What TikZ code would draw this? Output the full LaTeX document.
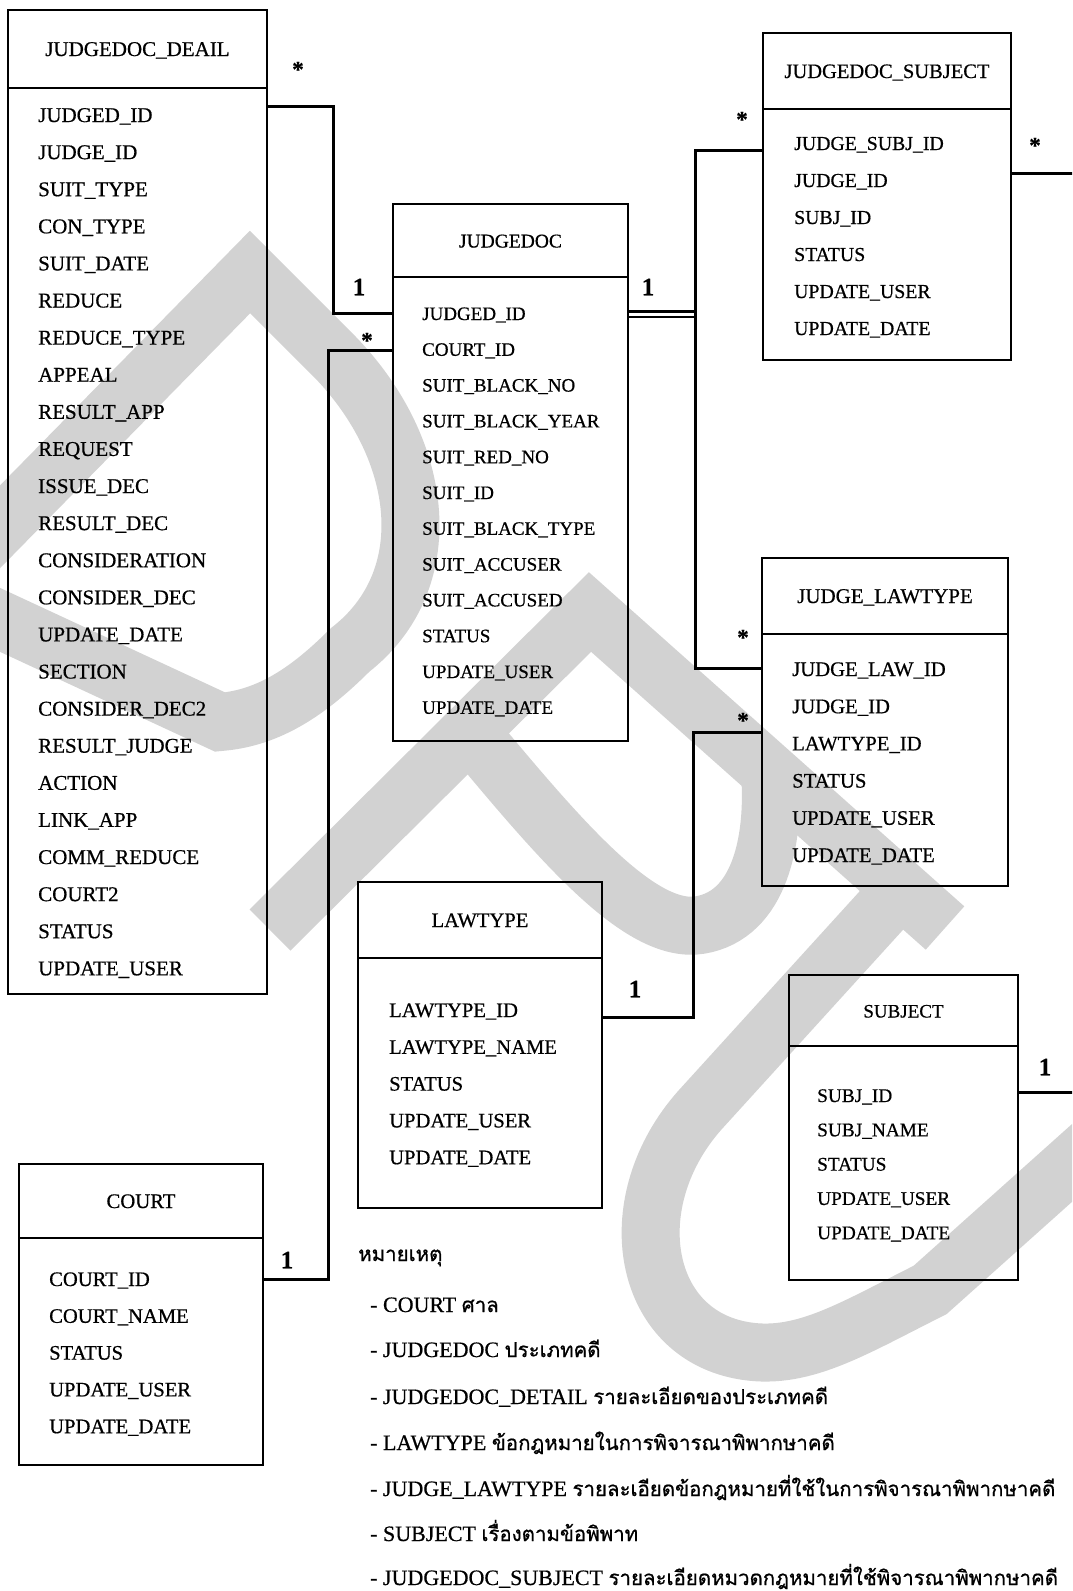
\documentclass[tikz,border=0pt]{standalone}
\usepackage{fontspec}
\setmainfont{Liberation Serif}[RawFeature={embolden=0.6}]
\newfontfamily\thaifont[Script=Thai,Scale=0.93,RawFeature={embolden=0.8}]{Loma}
\usetikzlibrary{calc}
\definecolor{wmgray}{RGB}{210,210,210}
\tikzset{
  tbox/.style={draw, line width=2pt, rectangle, inner sep=0pt, outer sep=0pt, anchor=north west},
  fieldtxt/.style={anchor=base west, inner sep=0pt},
  titletxt/.style={anchor=base, inner sep=0pt},
  conn/.style={line width=3pt, line join=miter},
  mult/.style={font=\bfseries\fontsize{23}{23}\selectfont, inner sep=0pt, anchor=base},
  card/.style={font=\bfseries\fontsize{25}{25}\selectfont, inner sep=0pt},
  wm/.style={draw=wmgray, line width=58pt, line join=miter, line cap=butt},
  legend/.style={anchor=base west, inner sep=0pt, font=\fontsize{22}{26}\selectfont},
}
% entity: name, left, top, right, divider, bottom, title, title size
\newcommand\entitybox[8]{%
  \node[tbox, minimum width={(#4)-(#2)}, minimum height={(#5)-(#3)}] (#1H) at (#2,#3) {};
  \node[tbox, minimum width={(#4)-(#2)}, minimum height={(#6)-(#5)}] (#1) at (#2,#5) {};
  \node[titletxt, font=\fontsize{#8}{#8}\selectfont] (#1T) at ($(#1H.center)+(0,7)$) {#7};
}
% field list: name, x, first row centre, row step, size, rows
\newcommand\fieldrows[6]{%
  \foreach \t [count=\i] in {#6}
    \node[fieldtxt, font=\fontsize{#5}{#5}\selectfont] (#1R\i) at (#2, {#3+7+#4*(\i-1)}) {\t};
}
\begin{document}
\begin{tikzpicture}[x=1pt, y=-1pt]
\useasboundingbox (0,0) rectangle (1072,1591);
\clip (0,0) rectangle (1072,1591);
\fill[white] (0,0) rectangle (1072,1591);

% watermark letters
\draw[wm] (-60,588) -- (250,272) -- (335,357)
  .. controls (425,450) and (440,580) .. (350,650)
  .. controls (310,690) and (270,718) .. (220,722) -- (-60,592);
\draw[wm] (270,930) -- (590,612) -- (945,928);
\draw[wm] (470,732) .. controls (560,840) and (640,935) .. (700,925)
  .. controls (760,915) and (775,840) .. (770,772);
\draw[wm] (900,890) -- (700,1110) .. controls (620,1200) and (640,1330) .. (740,1350)
  .. controls (800,1362) and (850,1330) .. (930,1290) -- (1120,1120);

% entities
\entitybox{det}{8}{10}{267}{88}{994}{JUDGEDOC\_DEAIL}{21}
\fieldrows{det}{38}{115}{37.1}{21}{JUDGED\_ID,JUDGE\_ID,SUIT\_TYPE,CON\_TYPE,SUIT\_DATE,REDUCE,REDUCE\_TYPE,APPEAL,RESULT\_APP,REQUEST,ISSUE\_DEC,RESULT\_DEC,CONSIDERATION,CONSIDER\_DEC,UPDATE\_DATE,SECTION,CONSIDER\_DEC2,RESULT\_JUDGE,ACTION,LINK\_APP,COMM\_REDUCE,COURT2,STATUS,UPDATE\_USER}

\entitybox{jd}{393}{204}{628}{277}{741}{JUDGEDOC}{19.5}
\fieldrows{jd}{422}{313}{35.8}{19}{JUDGED\_ID,COURT\_ID,SUIT\_BLACK\_NO,SUIT\_BLACK\_YEAR,SUIT\_RED\_NO,SUIT\_ID,SUIT\_BLACK\_TYPE,SUIT\_ACCUSER,SUIT\_ACCUSED,STATUS,UPDATE\_USER,UPDATE\_DATE}

\entitybox{jds}{763}{33}{1011}{109}{360}{JUDGEDOC\_SUBJECT}{20.5}
\fieldrows{jds}{794}{143}{37}{19.8}{JUDGE\_SUBJ\_ID,JUDGE\_ID,SUBJ\_ID,STATUS,UPDATE\_USER,UPDATE\_DATE}

\entitybox{jl}{762}{558}{1008}{634}{886}{JUDGE\_LAWTYPE}{21}
\fieldrows{jl}{792}{669}{37.2}{20.7}{JUDGE\_LAW\_ID,JUDGE\_ID,LAWTYPE\_ID,STATUS,UPDATE\_USER,UPDATE\_DATE}

\entitybox{lt}{358}{882}{602}{958}{1208}{LAWTYPE}{20.6}
\fieldrows{lt}{389}{1010}{36.8}{20.6}{LAWTYPE\_ID,LAWTYPE\_NAME,STATUS,UPDATE\_USER,UPDATE\_DATE}

\entitybox{subj}{789}{975}{1018}{1046}{1280}{SUBJECT}{19}
\fieldrows{subj}{817}{1095}{34.3}{19.3}{SUBJ\_ID,SUBJ\_NAME,STATUS,UPDATE\_USER,UPDATE\_DATE}

\entitybox{court}{19}{1164}{263}{1238}{1465}{COURT}{20.7}
\fieldrows{court}{49}{1279}{36.8}{20.6}{COURT\_ID,COURT\_NAME,STATUS,UPDATE\_USER,UPDATE\_DATE}

% relationships
\draw[conn] (det.east |- 0,106) -- (333,106) -- (333,313) -- (jd.west |- 0,313);
\draw[conn] (court.east |- 0,1279) -- (328,1279) -- (328,350) -- (jd.west |- 0,350);
\draw[line width=3pt] (jd.east |- 0,311) -- (695,311);
\draw[line width=2pt] (jd.east |- 0,317) -- (695,317);
\draw[conn] (jds.west |- 0,150) -- (695,150) -- (695,668) -- (jl.west |- 0,668);
\draw[conn] (lt.east |- 0,1017) -- (693,1017) -- (693,732) -- (jl.west |- 0,732);
\coordinate (jdsOut) at (1080,173);
\coordinate (subjOut) at (1080,1092);
\draw[conn] (jds.east |- jdsOut) -- (jdsOut);
\draw[conn] (subj.east |- subjOut) -- (subjOut);

% multiplicities
\node[mult] (m1) at (298,77) {*};
\node[card] (c1) at (359,287) {1};
\node[mult] (m2) at (367,348) {*};
\node[card] (c2) at (648,287) {1};
\node[mult] (m3) at (742,127) {*};
\node[mult] (m4) at (1035,153) {*};
\node[mult] (m5) at (743,645) {*};
\node[mult] (m6) at (743,728) {*};
\node[card] (c3) at (635,989) {1};
\node[card] (c4) at (1045,1067) {1};
\node[card] (c5) at (287,1260) {1};

% notes
\node[legend] (lg0) at (358,1261) {\thaifont หมายเหตุ};
\node[legend] (lg1) at (370,1312) {- COURT {\thaifont ศาล}};
\node[legend] (lg2) at (370,1357) {- JUDGEDOC {\thaifont ประเภทคดี}};
\node[legend] (lg3) at (370,1404) {- JUDGEDOC\_DETAIL {\thaifont รายละเอียดของประเภทคดี}};
\node[legend] (lg4) at (370,1450) {- LAWTYPE {\thaifont ข้อกฎหมายในการพิจารณาพิพากษาคดี}};
\node[legend] (lg5) at (370,1496) {- JUDGE\_LAWTYPE {\thaifont รายละเอียดข้อกฎหมายที่ใช้ในการพิจารณาพิพากษาคดี}};
\node[legend] (lg6) at (370,1541) {- SUBJECT {\thaifont เรื่องตามข้อพิพาท}};
\node[legend] (lg7) at (370,1585) {- JUDGEDOC\_SUBJECT {\thaifont รายละเอียดหมวดกฎหมายที่ใช้พิจารณาพิพากษาคดี}};
\end{tikzpicture}
\end{document}
